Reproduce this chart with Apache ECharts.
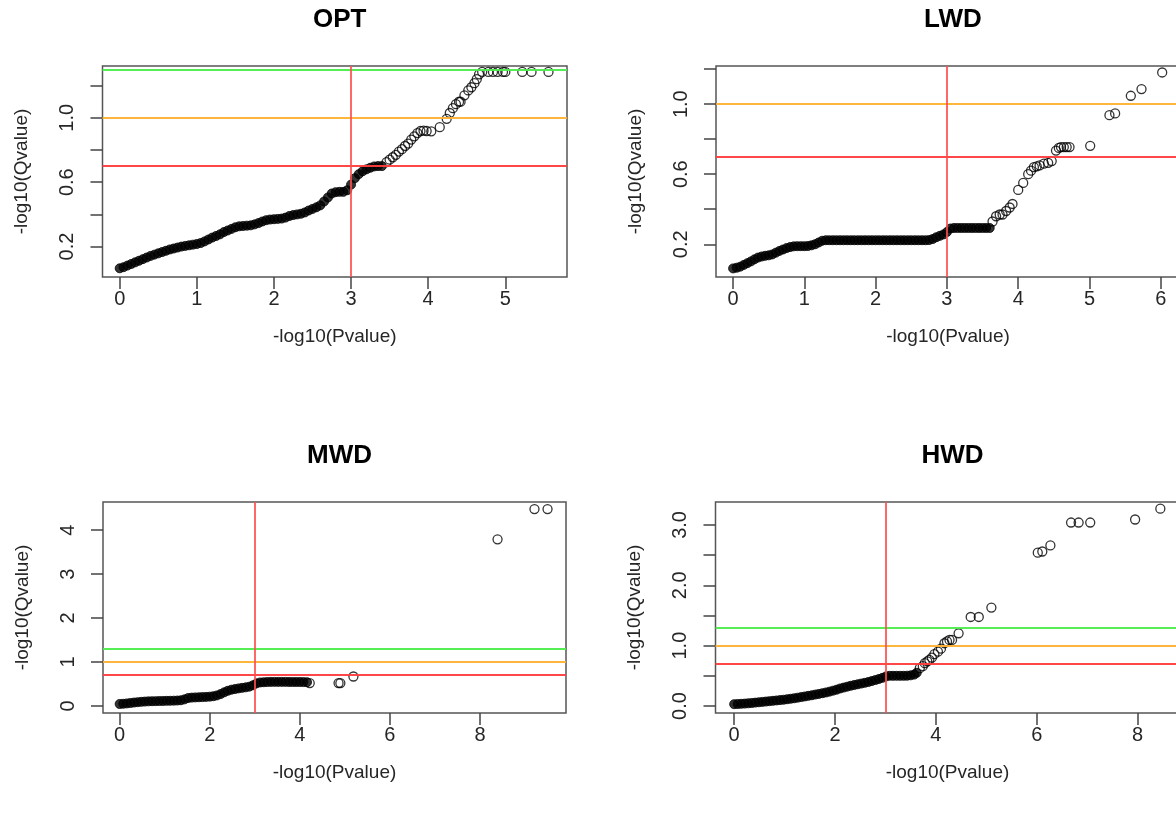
<!DOCTYPE html>
<html><head><meta charset="utf-8">
<script src="https://cdn.jsdelivr.net/npm/echarts@6/dist/echarts.min.js"></script>
<style>html,body{margin:0;padding:0;background:#fff;overflow:hidden;}#c{width:1200px;height:816px;}</style>
</head><body><div id="c"></div>
<script>
// ---------- data ----------
const panelTitles = ['OPT', 'LWD', 'MWD', 'HWD'];
const xAxisTitle = '-log10(Pvalue)';
const yAxisTitle = '-log10(Qvalue)';
const qCutoffs = [1.301, 1.0, 0.699];   // -log10(0.05), -log10(0.1), -log10(0.2)
const pCutoff = 3;                      // -log10(0.001)

const optDense = [[0.00,0.065],[0.05,0.072],[0.10,0.082],[0.15,0.092],[0.20,0.102],[0.25,0.112],[0.30,0.122],[0.35,0.132],[0.40,0.142],[0.45,0.150],[0.50,0.158],[0.55,0.166],[0.60,0.174],[0.65,0.182],[0.70,0.188],[0.75,0.194],[0.80,0.200],[0.85,0.204],[0.90,0.208],[0.95,0.212],[1.00,0.216],[1.05,0.222],[1.10,0.232],[1.15,0.244],[1.20,0.256],[1.25,0.266],[1.30,0.276],[1.35,0.290],[1.40,0.300],[1.45,0.310],[1.50,0.320],[1.55,0.326],[1.60,0.328],[1.65,0.330],[1.70,0.332],[1.75,0.338],[1.80,0.346],[1.85,0.356],[1.90,0.364],[1.95,0.368],[2.00,0.370],[2.05,0.372],[2.10,0.374],[2.15,0.380],[2.20,0.390],[2.25,0.396],[2.30,0.400],[2.35,0.404],[2.40,0.412],[2.45,0.424],[2.50,0.434],[2.55,0.444],[2.60,0.456],[2.65,0.480],[2.70,0.505],[2.75,0.530],[2.80,0.538],[2.85,0.540],[2.90,0.540],[2.95,0.550],[3.00,0.585],[3.05,0.625],[3.10,0.650],[3.15,0.668],[3.20,0.680],[3.25,0.690],[3.30,0.698],[3.35,0.700],[3.40,0.700]];
const optSparse = [[3.46,0.725],[3.50,0.740],[3.54,0.755],[3.58,0.770],[3.62,0.790],[3.66,0.805],[3.70,0.825],[3.74,0.840],[3.78,0.865],[3.82,0.885],[3.86,0.905],[3.90,0.918],[3.94,0.920],[3.98,0.918],[4.04,0.916],[4.15,0.942],[4.24,0.994],[4.28,1.030],[4.32,1.060],[4.36,1.085],[4.40,1.100],[4.42,1.100],[4.47,1.140],[4.52,1.170],[4.56,1.190],[4.60,1.215],[4.63,1.240],[4.66,1.270],[4.70,1.285],[4.78,1.285],[4.84,1.285],[4.90,1.285],[4.97,1.285],[5.00,1.285],[5.22,1.285],[5.34,1.285],[5.56,1.285]];

const lwdDense = [[0.00,0.062],[0.05,0.066],[0.10,0.072],[0.15,0.082],[0.20,0.092],[0.25,0.102],[0.30,0.114],[0.35,0.124],[0.40,0.130],[0.45,0.134],[0.50,0.137],[0.55,0.142],[0.60,0.152],[0.65,0.162],[0.70,0.170],[0.75,0.178],[0.80,0.184],[0.85,0.188],[0.90,0.189],[0.95,0.189],[1.00,0.189],[1.05,0.190],[1.10,0.194],[1.15,0.200],[1.20,0.210],[1.25,0.220],[1.30,0.223],[1.35,0.223],[1.40,0.223],[1.45,0.223],[1.50,0.223],[1.55,0.223],[1.60,0.223],[1.65,0.223],[1.70,0.223],[1.75,0.223],[1.80,0.223],[1.85,0.223],[1.90,0.223],[1.95,0.223],[2.00,0.223],[2.05,0.223],[2.10,0.223],[2.15,0.223],[2.20,0.223],[2.25,0.223],[2.30,0.223],[2.35,0.223],[2.40,0.223],[2.45,0.223],[2.50,0.223],[2.55,0.223],[2.60,0.223],[2.65,0.223],[2.70,0.223],[2.75,0.224],[2.80,0.230],[2.85,0.240],[2.90,0.248],[2.95,0.256],[3.00,0.270],[3.05,0.290],[3.10,0.293],[3.15,0.293],[3.20,0.293],[3.25,0.293],[3.30,0.293],[3.35,0.293],[3.40,0.293],[3.45,0.293],[3.50,0.293],[3.55,0.293],[3.60,0.293]];
const lwdSparse = [[3.64,0.330],[3.69,0.360],[3.74,0.370],[3.78,0.370],[3.83,0.390],[3.88,0.410],[3.92,0.430],[4.00,0.510],[4.07,0.550],[4.14,0.600],[4.18,0.620],[4.22,0.640],[4.26,0.645],[4.30,0.650],[4.36,0.660],[4.42,0.665],[4.47,0.675],[4.53,0.735],[4.57,0.750],[4.60,0.755],[4.64,0.755],[4.68,0.755],[4.72,0.755],[5.01,0.762],[5.28,0.937],[5.36,0.947],[5.58,1.048],[5.73,1.086],[6.02,1.181]];

const mwdDense = [[0.00,0.045],[0.08,0.050],[0.16,0.058],[0.24,0.068],[0.32,0.078],[0.40,0.086],[0.48,0.094],[0.56,0.100],[0.64,0.105],[0.72,0.108],[0.80,0.110],[0.88,0.112],[0.96,0.114],[1.04,0.116],[1.12,0.118],[1.20,0.120],[1.28,0.124],[1.36,0.130],[1.44,0.150],[1.52,0.180],[1.60,0.190],[1.68,0.195],[1.76,0.198],[1.84,0.202],[1.92,0.206],[2.00,0.212],[2.08,0.222],[2.16,0.240],[2.24,0.270],[2.32,0.310],[2.40,0.345],[2.48,0.370],[2.56,0.385],[2.64,0.400],[2.72,0.412],[2.80,0.424],[2.88,0.440],[2.96,0.470],[3.04,0.515],[3.12,0.535],[3.20,0.540],[3.28,0.545],[3.36,0.548],[3.44,0.548],[3.52,0.548],[3.60,0.548],[3.68,0.548],[3.76,0.546],[3.84,0.545],[3.92,0.545],[4.00,0.545],[4.08,0.543],[4.16,0.540]];
const mwdSparse = [[4.22,0.520],[4.86,0.520],[4.90,0.520],[5.19,0.670],[8.39,3.790],[9.21,4.480],[9.50,4.480]];

const hwdDense = [[0.00,0.030],[0.07,0.033],[0.14,0.036],[0.21,0.040],[0.28,0.045],[0.35,0.050],[0.42,0.056],[0.49,0.062],[0.56,0.068],[0.63,0.074],[0.70,0.080],[0.77,0.086],[0.84,0.092],[0.91,0.098],[0.98,0.104],[1.05,0.112],[1.12,0.120],[1.19,0.128],[1.26,0.138],[1.33,0.148],[1.40,0.158],[1.47,0.168],[1.54,0.178],[1.61,0.190],[1.68,0.200],[1.75,0.212],[1.82,0.224],[1.89,0.238],[1.96,0.254],[2.03,0.270],[2.10,0.290],[2.17,0.305],[2.24,0.320],[2.31,0.335],[2.38,0.348],[2.45,0.360],[2.52,0.372],[2.59,0.384],[2.66,0.398],[2.73,0.414],[2.80,0.430],[2.87,0.448],[2.94,0.466],[3.01,0.490],[3.08,0.500],[3.15,0.500],[3.22,0.500],[3.29,0.500],[3.36,0.500],[3.43,0.502],[3.50,0.508],[3.57,0.520],[3.62,0.550]];
const hwdSparse = [[3.68,0.627],[3.74,0.660],[3.78,0.710],[3.83,0.740],[3.87,0.765],[3.92,0.800],[3.97,0.858],[4.04,0.900],[4.10,0.950],[4.17,1.040],[4.22,1.070],[4.27,1.095],[4.32,1.095],[4.45,1.205],[4.69,1.475],[4.85,1.475],[5.10,1.630],[6.02,2.540],[6.11,2.560],[6.27,2.660],[6.68,3.040],[6.83,3.040],[7.06,3.040],[7.95,3.090],[8.45,3.270]];

// axis ranges (R style, 4% padding) and tick / label values
const optXRange = [-0.223, 5.80], optYRange = [0.011, 1.322];
const lwdXRange = [-0.24, 6.27],  lwdYRange = [0.013, 1.218];
const mwdXRange = [-0.37, 9.91],  mwdYRange = [-0.16, 4.64];
const hwdXRange = [-0.37, 8.83],  hwdYRange = [-0.116, 3.38];

const optXTicks = [0,1,2,3,4,5],   optYTicks = [0.2,0.4,0.6,0.8,1.0,1.2], optYLabels = [0.2,0.6,1.0];
const lwdXTicks = [0,1,2,3,4,5,6], lwdYTicks = [0.2,0.4,0.6,0.8,1.0,1.2], lwdYLabels = [0.2,0.6,1.0];
const mwdXTicks = [0,2,4,6,8],     mwdYTicks = [0,1,2,3,4],               mwdYLabels = [0,1,2,3,4];
const hwdXTicks = [0,2,4,6,8],     hwdYTicks = [0,0.5,1.0,1.5,2.0,2.5,3.0], hwdYLabels = [0,1,2,3];

// ---------- chart ----------
const panels = [
  {title: panelTitles[0], dense: optDense, sparse: optSparse, xr: optXRange, yr: optYRange, xt: optXTicks, yt: optYTicks, yl: optYLabels, yd: 1},
  {title: panelTitles[1], dense: lwdDense, sparse: lwdSparse, xr: lwdXRange, yr: lwdYRange, xt: lwdXTicks, yt: lwdYTicks, yl: lwdYLabels, yd: 1},
  {title: panelTitles[2], dense: mwdDense, sparse: mwdSparse, xr: mwdXRange, yr: mwdYRange, xt: mwdXTicks, yt: mwdYTicks, yl: mwdYLabels, yd: 0},
  {title: panelTitles[3], dense: hwdDense, sparse: hwdSparse, xr: hwdXRange, yr: hwdYRange, xt: hwdXTicks, yt: hwdYTicks, yl: hwdYLabels, yd: 1}
];
const boxes = [
  {left: 102.5, top: 66, width: 464.5, height: 211},
  {left: 716,   top: 66, width: 464,   height: 211},
  {left: 103,   top: 502, width: 463,  height: 211},
  {left: 715.5, top: 502, width: 464,  height: 211}
];
const FONT = '"Liberation Sans", Arial, Helvetica, sans-serif';
const lineColors = ['#4cee4c', '#ffb233', '#ff3d3d'];
const axisCol = '#444';
const textCol = '#262626';

const option = {
  animation: false,
  backgroundColor: '#fff',
  title: [], grid: [], xAxis: [], yAxis: [], series: []
};

panels.forEach((p, i) => {
  const b = boxes[i];
  option.title.push({
    text: p.title, left: b.left + b.width / 2, top: b.top - 64, textAlign: 'center',
    textStyle: {fontFamily: FONT, fontSize: 26, fontWeight: 'bold', color: '#000'}
  });
  option.grid.push({left: b.left, top: b.top, width: b.width, height: b.height,
    show: true, borderColor: '#555', borderWidth: 1.5, backgroundColor: 'transparent', containLabel: false});
  option.xAxis.push({
    type: 'value', gridIndex: i, min: p.xr[0], max: p.xr[1],
    axisLine: {show: false, onZero: false}, splitLine: {show: false},
    axisTick: {show: true, inside: false, length: 12, customValues: p.xt, lineStyle: {color: axisCol, width: 1.5}},
    axisLabel: {show: true, customValues: p.xt, margin: 12, fontFamily: FONT, fontSize: 20, color: textCol,
      formatter: v => String(Math.round(v))},
    name: xAxisTitle, nameLocation: 'middle', nameGap: 50,
    nameTextStyle: {fontFamily: FONT, fontSize: 19, color: textCol}
  });
  option.yAxis.push({
    type: 'value', gridIndex: i, min: p.yr[0], max: p.yr[1],
    axisLine: {show: false, onZero: false}, splitLine: {show: false},
    axisTick: {show: true, inside: false, length: 12, customValues: p.yt, lineStyle: {color: axisCol, width: 1.5}},
    axisLabel: {show: true, customValues: p.yl, rotate: 90, margin: 25, fontFamily: FONT, fontSize: 20, color: textCol,
      formatter: v => Number(v).toFixed(p.yd)},
    name: yAxisTitle, nameLocation: 'middle', nameGap: 71, nameRotate: 90,
    nameTextStyle: {fontFamily: FONT, fontSize: 19, color: textCol}
  });
  option.series.push({
    type: 'scatter', xAxisIndex: i, yAxisIndex: i, data: p.dense, symbol: 'circle', symbolSize: 9,
    itemStyle: {color: '#000', borderColor: '#000', borderWidth: 1}, silent: true, z: 2
  });
  option.series.push({
    type: 'scatter', xAxisIndex: i, yAxisIndex: i, data: p.sparse, symbol: 'circle', symbolSize: 9,
    itemStyle: {color: 'rgba(0,0,0,0)', borderColor: '#000', borderWidth: 1.3}, silent: true, z: 3
  });
  const ml = [];
  qCutoffs.forEach((q, k) => {
    if (q <= p.yr[1]) ml.push({yAxis: q, lineStyle: {color: lineColors[k], width: 2, type: 'solid', opacity: 0.95}});
  });
  ml.push({xAxis: pCutoff, lineStyle: {color: '#ff4d4d', width: 2, type: 'solid', opacity: 0.85}});
  option.series.push({
    type: 'scatter', xAxisIndex: i, yAxisIndex: i, data: [], silent: true, z: 5,
    markLine: {silent: true, symbol: ['none', 'none'], label: {show: false}, animation: false, data: ml}
  });
});

const chart = echarts.init(document.getElementById('c'), null, {renderer: 'canvas'});
chart.setOption(option);
</script>
</body></html>
